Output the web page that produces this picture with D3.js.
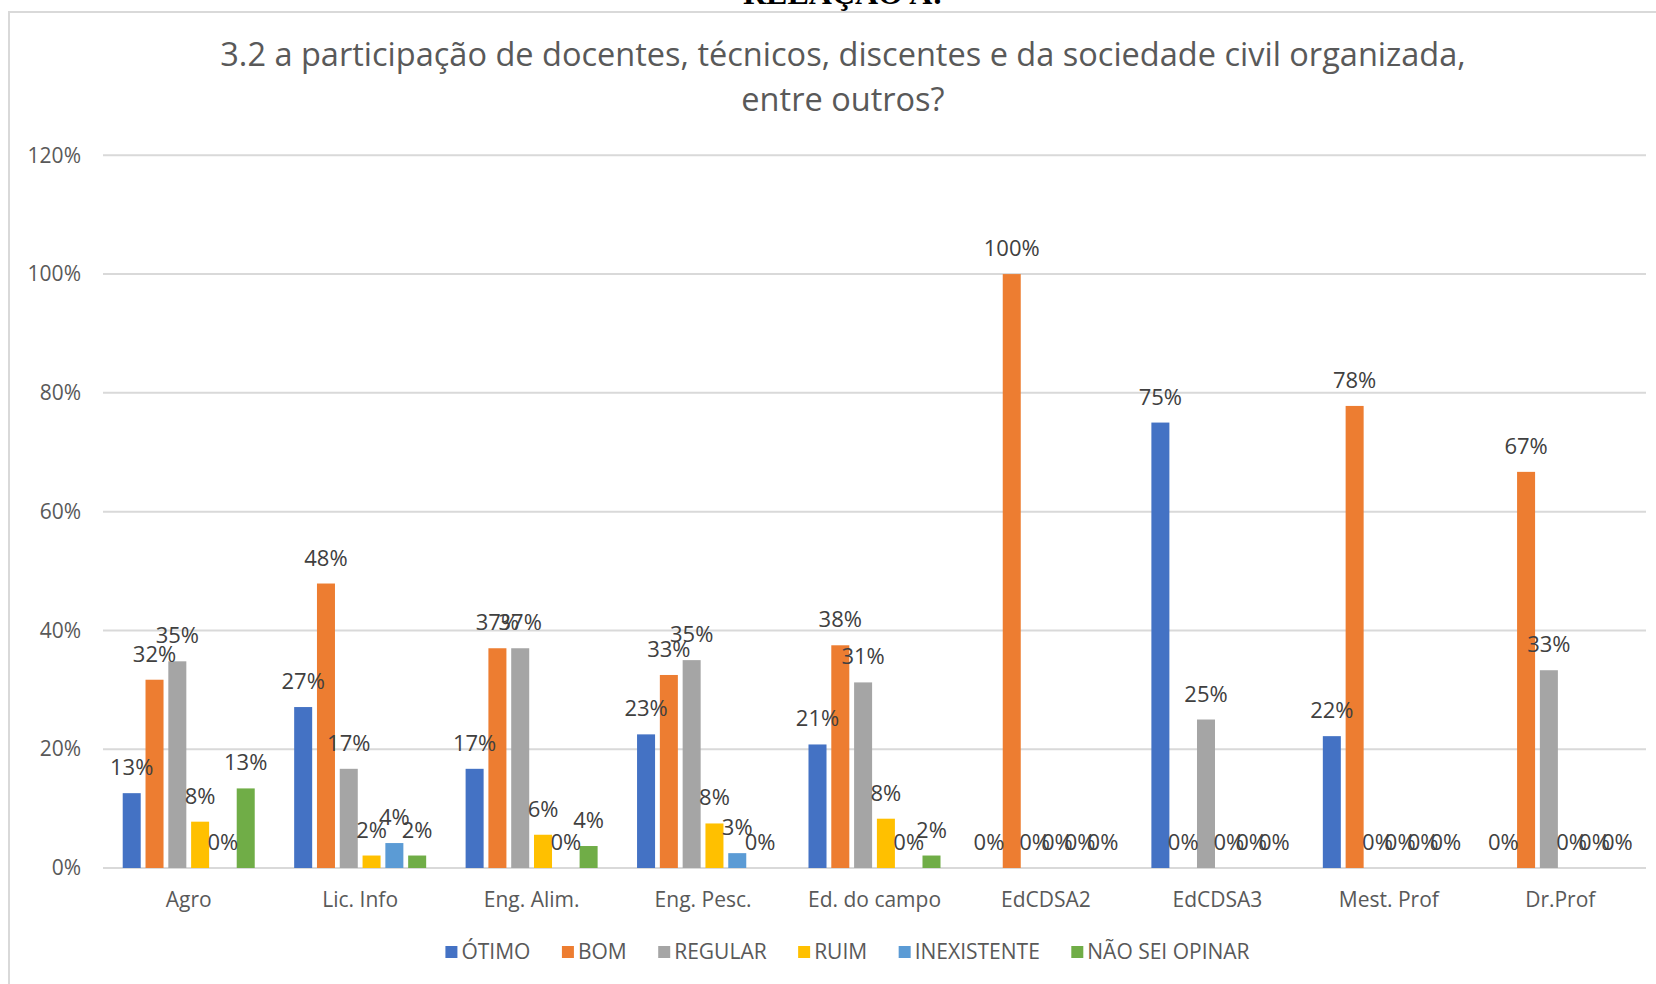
<!DOCTYPE html>
<html>
<head>
<meta charset="utf-8">
<script src="https://cdn.jsdelivr.net/npm/d3@7"></script>
<style>
  html, body { margin: 0; padding: 0; background: #ffffff; }
  svg { display: block; }
  text { font-family: "Open Sans", "Noto Sans", sans-serif; }
</style>
</head>
<body>
<svg id="chart" width="1656" height="984"></svg>
<script>
const categories = ["Agro", "Lic. Info", "Eng. Alim.", "Eng. Pesc.", "Ed. do campo", "EdCDSA2", "EdCDSA3", "Mest. Prof", "Dr.Prof"];
const seriesNames = ["ÓTIMO", "BOM", "REGULAR", "RUIM", "INEXISTENTE", "NÃO SEI OPINAR"];
const seriesColors = ["#4472C4", "#ED7D31", "#A5A5A5", "#FFC000", "#5B9BD5", "#70AD47"];
const otimo       = [0.126, 0.271, 0.167, 0.225, 0.208, 0, 0.75, 0.222, 0];
const bom         = [0.317, 0.479, 0.370, 0.325, 0.375, 1.00, 0, 0.778, 0.667];
const regular     = [0.348, 0.167, 0.370, 0.350, 0.3125, 0, 0.25, 0, 0.333];
const ruim        = [0.078, 0.021, 0.056, 0.075, 0.083, 0, 0, 0, 0];
const inexistente = [0, 0.042, 0, 0.025, 0, 0, 0, 0, 0];
const naoSei      = [0.134, 0.021, 0.037, 0, 0.021, 0, 0, 0, 0];
const yTicks = [0, 0.2, 0.4, 0.6, 0.8, 1.0, 1.2];
const titleLines = ["3.2 a participação de docentes, técnicos, discentes e da sociedade civil organizada,", "entre outros?"];
const headerText = "RELAÇÃO A:";

const seriesValues = [otimo, bom, regular, ruim, inexistente, naoSei];

const svg = d3.select("#chart");
const W = 1656, H = 984;
const plot = { left: 103, right: 1646, top: 155.3, bottom: 868 };

// chart area border (partially off-canvas)
svg.append("rect")
  .attr("x", 9).attr("y", 12)
  .attr("width", W + 20).attr("height", H + 20)
  .attr("fill", "#ffffff")
  .attr("stroke", "#d9d9d9").attr("stroke-width", 2);

// header text cut off at the top
svg.append("text")
  .attr("x", 843).attr("y", 4)
  .attr("text-anchor", "middle")
  .style("font-family", "'Liberation Serif', serif")
  .style("font-weight", "bold")
  .style("font-size", "32px")
  .attr("fill", "#000")
  .text(headerText);

// title
const title = svg.append("g");
titleLines.forEach((t, i) => {
  title.append("text")
    .attr("x", 843).attr("y", 66 + i * 45)
    .attr("text-anchor", "middle")
    .attr("fill", "#595959")
    .style("font-size", "30px")
    .text(t);
});
// fit the first line width to reference
const firstLine = title.select("text").node();
const len = firstLine.getComputedTextLength();
const fs = 30 * 1246 / len;
title.selectAll("text").style("font-size", Math.max(26, Math.min(36, fs)) + "px");

const y = d3.scaleLinear().domain([0, 1.2]).range([plot.bottom, plot.top]);
const x0 = d3.scaleBand().domain(categories).range([plot.left, plot.right])
  .paddingInner(0.23).paddingOuter(0.115);
const x1 = d3.scaleBand().domain(seriesNames).range([0, x0.bandwidth()])
  .paddingInner(0.21).paddingOuter(0);

// gridlines
svg.append("g")
  .selectAll("line").data(yTicks).join("line")
  .attr("x1", plot.left).attr("x2", plot.right)
  .attr("y1", d => y(d)).attr("y2", d => y(d))
  .attr("stroke", "#d9d9d9").attr("stroke-width", 2);

// y axis
const yAxis = svg.append("g")
  .attr("transform", `translate(${plot.left - 22},0)`)
  .call(d3.axisLeft(y).tickValues(yTicks).tickFormat(d3.format(".0%")).tickSize(0).tickPadding(0));
yAxis.select(".domain").remove();
yAxis.selectAll("text")
  .attr("fill", "#595959")
  .style("font-size", "21px")
  .style("font-family", "'Open Sans', sans-serif");

// x axis labels
const xAxis = svg.append("g")
  .attr("transform", `translate(0,${plot.bottom})`)
  .call(d3.axisBottom(x0).tickSize(0).tickPadding(24));
xAxis.select(".domain").remove();
xAxis.selectAll("text")
  .attr("fill", "#595959")
  .style("font-size", "21px")
  .style("font-family", "'Open Sans', sans-serif");

// bars
const rows = [];
categories.forEach((c, ci) => {
  seriesNames.forEach((s, si) => {
    rows.push({ cat: c, series: s, si, value: seriesValues[si][ci] });
  });
});

const groups = svg.append("g");
groups.selectAll("rect").data(rows.filter(d => d.value > 0)).join("rect")
  .attr("x", d => x0(d.cat) + x1(d.series))
  .attr("width", x1.bandwidth())
  .attr("y", d => y(d.value))
  .attr("height", d => y(0) - y(d.value))
  .attr("fill", d => seriesColors[d.si]);

// data labels
svg.append("g").selectAll("text").data(rows).join("text")
  .attr("x", d => x0(d.cat) + x1(d.series) + x1.bandwidth() / 2)
  .attr("y", d => y(d.value) - 18)
  .attr("text-anchor", "middle")
  .attr("fill", "#404040")
  .style("font-size", "22px")
  .text(d => d3.format(".0%")(d.value));

// legend
const legend = svg.append("g");
const items = legend.selectAll("g").data(seriesNames).join("g");
items.append("rect")
  .attr("width", 12).attr("height", 12)
  .attr("y", -13)
  .attr("fill", (d, i) => seriesColors[i]);
items.append("text")
  .attr("x", 16).attr("y", 0)
  .attr("fill", "#595959")
  .style("font-size", "21px")
  .text(d => d);
const gap = 31.5;
let cx = 0;
const offsets = [];
items.each(function () {
  offsets.push(cx);
  const w = 16 + d3.select(this).select("text").node().getComputedTextLength();
  cx += w + gap;
});
const totalW = cx - gap;
const lx = 847.5 - totalW / 2;
items.attr("transform", (d, i) => `translate(${lx + offsets[i]},959)`);
</script>
</body>
</html>
